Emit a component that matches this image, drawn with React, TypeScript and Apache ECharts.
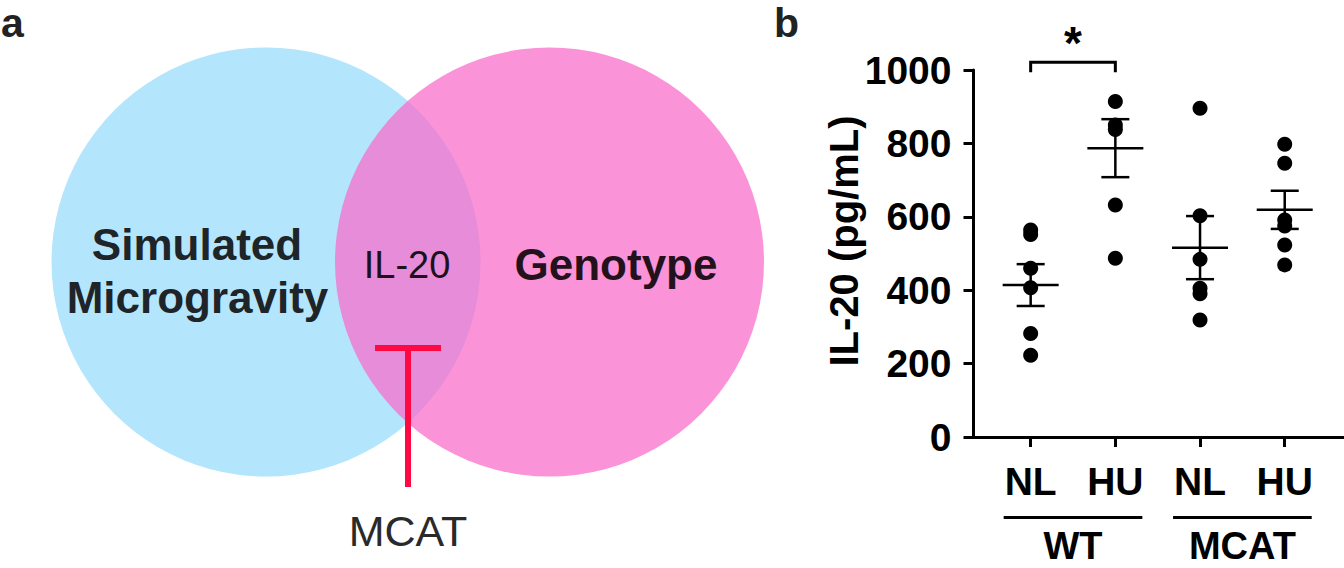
import React, { useEffect, useRef } from "react";
import * as echarts from "echarts";

// ---------- data ----------
const conditions = ["NL", "HU", "NL", "HU"];
const genotypes = ["WT", "MCAT"];
const wtNL = [564, 552, 460, 407, 282, 223];
const wtHU = [914, 850, 838, 632, 487];
const mcatNL = [896, 603, 484, 405, 390, 319];
const mcatHU = [798, 746, 591, 575, 523, 469];
const groupMeans = [414, 787, 516, 619];
const groupSems = [57, 79, 86, 52];
const yTicks = [0, 200, 400, 600, 800, 1000];
const sigPair = [1, 2];
const sigLevel = 1021;
const sigLabel = "*";
const vennSets = ["Simulated\nMicrogravity", "Genotype"];
const vennShared = "IL-20";
const vennInhibitor = "MCAT";
const yTitle = "IL-20 (pg/mL)";

const FONT = '"Liberation Sans", Arial, Helvetica, sans-serif';

export default function App() {
  const ref = useRef<HTMLDivElement>(null);

  useEffect(() => {
    if (!ref.current) return;
    const chart = echarts.init(ref.current, undefined, { renderer: "svg" });

    const groups = [wtNL, wtHU, mcatNL, mcatHU];
    const scatterData: number[][] = [];
    groups.forEach((vals, gi) => vals.forEach((v) => scatterData.push([gi + 1, v])));
    const statData = groupMeans.map((m, i) => [i + 1, m, groupSems[i]]);
    const genoData = genotypes.map((g, i) => [2 * i + 1, 2 * i + 2, g]);

    const option: any = {
      animation: false,
      grid: { left: 973.5, top: 70, right: 0, height: 367 },
      xAxis: {
        type: "value",
        min: 0.325,
        max: 4.7,
        axisLine: { show: true, lineStyle: { color: "#000", width: 3 } },
        axisTick: { show: true, customValues: [1, 2, 3, 4], length: 10, lineStyle: { color: "#000", width: 3 } },
        axisLabel: {
          customValues: [1, 2, 3, 4],
          formatter: (v: number) => conditions[Math.round(v) - 1] ?? "",
          margin: 25,
          color: "#000",
          fontSize: 39,
          fontWeight: "bold",
          fontFamily: FONT,
        },
        splitLine: { show: false },
      },
      yAxis: {
        type: "value",
        min: yTicks[0],
        max: yTicks[yTicks.length - 1],
        interval: yTicks[1] - yTicks[0],
        axisLine: { show: true, lineStyle: { color: "#000", width: 3 } },
        axisTick: { show: true, length: 10, lineStyle: { color: "#000", width: 3 } },
        axisLabel: {
          margin: 22,
          color: "#000",
          fontSize: 39,
          fontWeight: "bold",
          fontFamily: FONT,
          formatter: (v: number) => String(v),
        },
        splitLine: { show: false },
      },
      graphic: [
        // Venn diagram
        { type: "circle", shape: { cx: 266, cy: 262, r: 214.5 }, style: { fill: "#b3e5fc" }, z: 1 },
        { type: "circle", shape: { cx: 549.5, cy: 262, r: 214.5 }, style: { fill: "rgba(249,105,202,0.72)" }, z: 2 },
        {
          type: "text", x: 197, y: 244, z: 5,
          style: { text: vennSets[0].split("\n")[0], fontSize: 44, fontWeight: "bold", fontFamily: FONT, fill: "#1e2427", align: "center", verticalAlign: "middle" },
        },
        {
          type: "text", x: 197.5, y: 297, z: 5,
          style: { text: vennSets[0].split("\n")[1], fontSize: 44, fontWeight: "bold", fontFamily: FONT, fill: "#1e2427", align: "center", verticalAlign: "middle" },
        },
        {
          type: "text", x: 616, y: 264, z: 5,
          style: { text: vennSets[1], fontSize: 44, fontWeight: "bold", fontFamily: FONT, fill: "#23121b", align: "center", verticalAlign: "middle" },
        },
        {
          type: "text", x: 407, y: 264.5, z: 5,
          style: { text: vennShared, fontSize: 38, fontFamily: FONT, fill: "#1d1219", align: "center", verticalAlign: "middle" },
        },
        { type: "line", shape: { x1: 375, y1: 348, x2: 441, y2: 348 }, style: { stroke: "#ff0844", lineWidth: 6 }, z: 5 },
        { type: "line", shape: { x1: 408, y1: 348, x2: 408, y2: 487 }, style: { stroke: "#ff0844", lineWidth: 6 }, z: 5 },
        {
          type: "text", x: 408, y: 531, z: 5,
          style: { text: vennInhibitor, fontSize: 43, fontFamily: FONT, fill: "#2a2a2a", align: "center", verticalAlign: "middle" },
        },
        // panel letters
        {
          type: "text", x: 1, y: 23, z: 5,
          style: { text: "a", fontSize: 41, fontWeight: "bold", fontFamily: FONT, fill: "#222", align: "left", verticalAlign: "middle" },
        },
        {
          type: "text", x: 774, y: 23, z: 5,
          style: { text: "b", fontSize: 41, fontWeight: "bold", fontFamily: FONT, fill: "#222", align: "left", verticalAlign: "middle" },
        },
        // y axis title
        {
          type: "text", x: 844, y: 241, rotation: Math.PI / 2, z: 5,
          style: { text: yTitle, fontSize: 40, fontWeight: "bold", fontFamily: FONT, fill: "#000", align: "center", verticalAlign: "middle" },
        },
      ],
      series: [
        {
          type: "scatter",
          data: scatterData,
          symbol: "circle",
          symbolSize: 15,
          itemStyle: { color: "#000", opacity: 1 },
          z: 3,
        },
        {
          type: "custom",
          data: statData,
          z: 4,
          renderItem: (params: any, api: any) => {
            const x = api.value(0);
            const m = api.value(1);
            const s = api.value(2);
            const pm = api.coord([x, m]);
            const pt = api.coord([x, m + s]);
            const pb = api.coord([x, m - s]);
            const st = { stroke: "#000", lineWidth: 2.5 };
            return {
              type: "group",
              children: [
                { type: "line", shape: { x1: pm[0] - 28, y1: pm[1], x2: pm[0] + 28, y2: pm[1] }, style: st },
                { type: "line", shape: { x1: pt[0], y1: pt[1], x2: pb[0], y2: pb[1] }, style: st },
                { type: "line", shape: { x1: pt[0] - 14, y1: pt[1], x2: pt[0] + 14, y2: pt[1] }, style: st },
                { type: "line", shape: { x1: pb[0] - 14, y1: pb[1], x2: pb[0] + 14, y2: pb[1] }, style: st },
              ],
            };
          },
        },
        {
          type: "custom",
          data: [[sigPair[0], sigPair[1], sigLevel]],
          z: 4,
          renderItem: (params: any, api: any) => {
            const a = api.coord([api.value(0), api.value(2)]);
            const b = api.coord([api.value(1), api.value(2)]);
            const st = { stroke: "#000", lineWidth: 3, fill: null };
            return {
              type: "group",
              children: [
                { type: "polyline", shape: { points: [[a[0], a[1] + 10], [a[0], a[1]], [b[0], b[1]], [b[0], b[1] + 10]] }, style: st },
                {
                  type: "text", x: (a[0] + b[0]) / 2, y: a[1] - 19,
                  style: { text: sigLabel, fontSize: 46, fontWeight: "bold", fontFamily: FONT, fill: "#000", align: "center", verticalAlign: "middle" },
                },
              ],
            };
          },
        },
        {
          type: "custom",
          data: genoData,
          z: 4,
          renderItem: (params: any, api: any) => {
            const a = api.coord([api.value(0), 0]);
            const b = api.coord([api.value(1), 0]);
            const name = genotypes[params.dataIndex];
            return {
              type: "group",
              children: [
                { type: "line", shape: { x1: a[0] - 27, y1: a[1] + 80.5, x2: b[0] + 27, y2: b[1] + 80.5 }, style: { stroke: "#000", lineWidth: 3 } },
                {
                  type: "text", x: (a[0] + b[0]) / 2, y: a[1] + 109,
                  style: { text: name, fontSize: 38, fontWeight: "bold", fontFamily: FONT, fill: "#000", align: "center", verticalAlign: "middle" },
                },
              ],
            };
          },
        },
      ],
    };

    chart.setOption(option);
    return () => chart.dispose();
  }, []);

  return (
    <div
      ref={ref}
      style={{ position: "absolute", left: 0, top: 0, width: 1344, height: 568, background: "#fff" }}
    />
  );
}
